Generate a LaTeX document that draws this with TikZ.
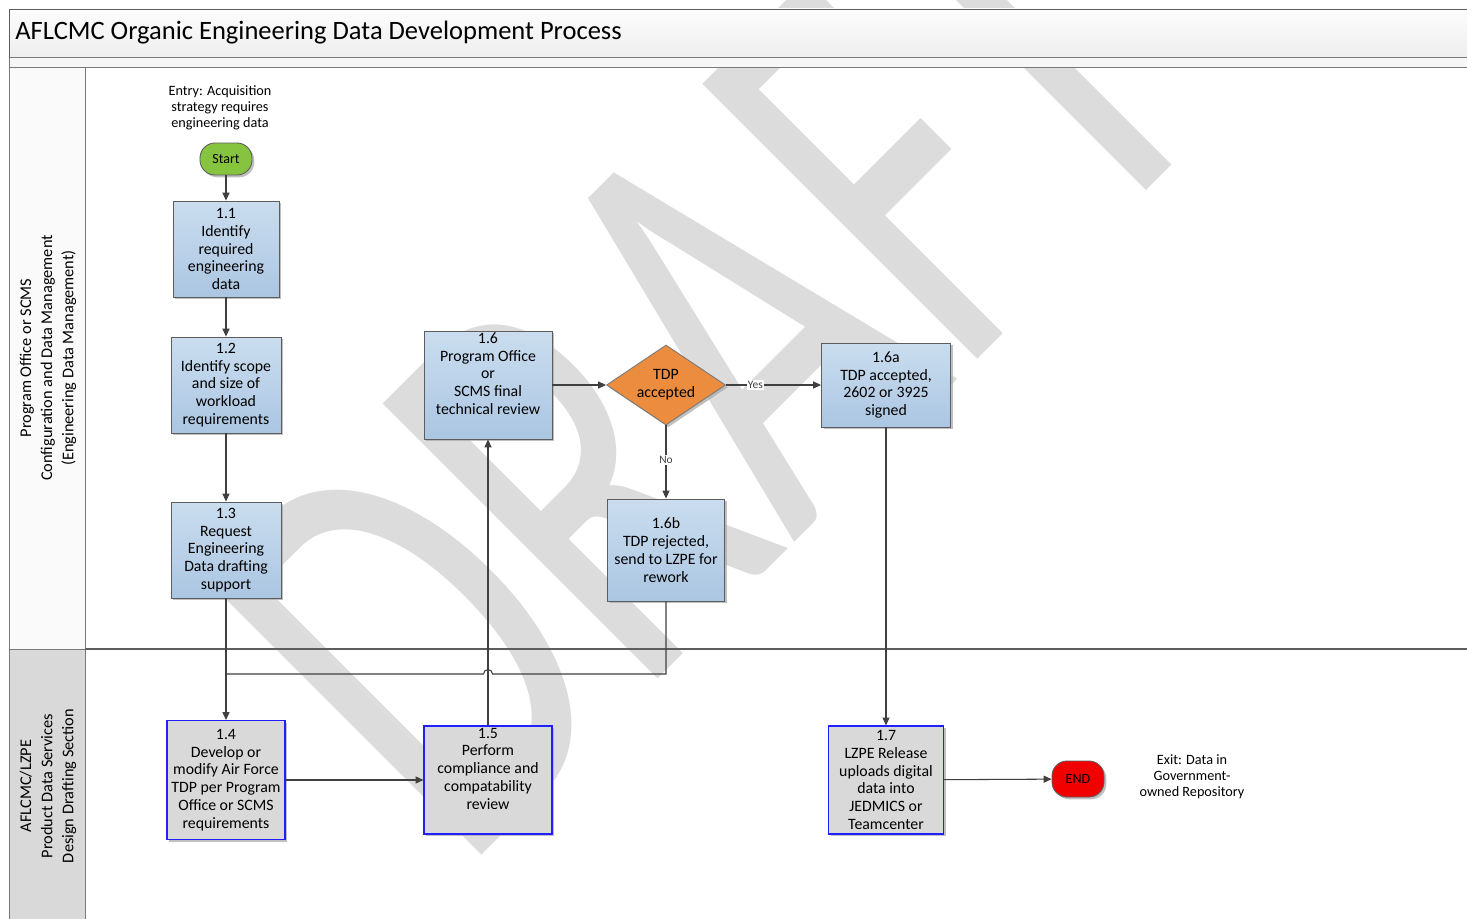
\documentclass[tikz,border=0pt]{standalone}
\usepackage{fontspec}
\setmainfont{Carlito}
\usepackage{graphicx}
\usepackage{tikz}
\usetikzlibrary{positioning,shapes.geometric,arrows.meta,shadows}
\definecolor{LineDark}{HTML}{404040}
\definecolor{BoxBlueTop}{HTML}{CADDEF}
\definecolor{BoxBlueBot}{HTML}{ABC6E2}
\definecolor{BoxGray}{HTML}{D9D9D9}
\definecolor{EdgeBlue}{HTML}{1F1FFF}
\definecolor{StartGreen}{HTML}{86C440}
\definecolor{EndRed}{HTML}{F20000}
\definecolor{DecOrange}{HTML}{EB8C3F}
\definecolor{WaterGray}{HTML}{DCDCDC}
\definecolor{LaneGray}{HTML}{D9D9D9}
\definecolor{TitleTop}{HTML}{FDFDFD}
\definecolor{TitleBot}{HTML}{EEEEEE}

\begin{document}
\begin{tikzpicture}[x=0.02cm,y=-0.02cm,
  font=\fontsize{9}{10.1}\selectfont,
  every node/.style={align=center,inner sep=0pt},
  shade/.style={drop shadow={shadow xshift=1.3pt,shadow yshift=-1.3pt,fill=black!35,opacity=0.7}},
  bluebox/.style={shade,draw=LineDark!85,line width=0.5pt,top color=BoxBlueTop,bottom color=BoxBlueBot},
  graybox/.style={shade,draw=EdgeBlue,line width=0.6pt,fill=BoxGray},
  term/.style={shade,draw=LineDark!85,line width=0.5pt,rounded corners=0.3cm,font=\fontsize{8}{9}\selectfont},
  decision/.style={shade,diamond,aspect=1.5,draw=LineDark!70,line width=0.5pt,fill=DecOrange,minimum width=2.38cm,minimum height=1.6cm},
  note/.style={font=\fontsize{8.1}{9.1}\selectfont},
  flow/.style={LineDark,line width=0.6pt,-{Triangle[length=4.5pt,width=4pt]}},
  tag/.style={fill=white,inner sep=0.6pt,font=\fontsize{6.5}{7}\selectfont},
  wmark/.style={text=WaterGray,font=\fontsize{230}{230}\selectfont}]
  \useasboundingbox[fill=white] (0,0) rectangle (1467,919);
  % 水印
  \begin{scope}
    \clip (0,0) rectangle (1467,919);
    \node[wmark,rotate=45,anchor=base west] (wm) at (462,875) {\scalebox{1}[1.5]{DRAFT}};
  \end{scope}
  % 标题栏
  \draw[LineDark!85,top color=TitleTop,bottom color=TitleBot] (9,9) rectangle (1480,57);
  \draw[LineDark!70,fill=black!3] (9,57) rectangle (1480,67);
  \node[anchor=west,font=\fontsize{15.1}{16}\selectfont] (title) at (15,33) {AFLCMC Organic Engineering Data Development Process};
  % 泳道
  \draw[LineDark!70,fill=black!2] (9,67) rectangle (85,649);
  \draw[LineDark!70,fill=LaneGray] (9,649) rectangle (85,925);
  \draw[LineDark!85,line width=0.8pt] (85,649) -- (1467,649);
  \node[rotate=90,font=\fontsize{9.3}{12}\selectfont] (lane1) at (48,358) {Program Office or SCMS\\Configuration and Data Management\\(Engineering Data Management)};
  \node[rotate=90,font=\fontsize{9.3}{12}\selectfont] (lane2) at (48,786) {AFLCMC/LZPE\\Product Data Services\\Design Drafting Section};
  % 节点
  \node[note] (entry) at (220,108) {Entry: Acquisition\\strategy requires\\engineering data};
  \node[term,fill=StartGreen,minimum width=1.04cm,minimum height=0.64cm] (start) at (226,159) {Start};
  \node[bluebox,minimum width=2.12cm,minimum height=1.92cm] (b11) at (226,249) {1.1\\Identify\\required\\engineering\\data};
  \node[bluebox,minimum width=2.2cm,minimum height=1.92cm] (b12) at (226,385) {1.2\\Identify scope\\and size of\\workload\\requirements};
  \node[bluebox,minimum width=2.2cm,minimum height=1.92cm] (b13) at (226,550) {1.3\\Request\\Engineering\\Data drafting\\support};
  \node[bluebox,minimum width=2.56cm,minimum height=2.16cm] (b16) at (488,385) {1.6\\Program Office\\or\\SCMS final\\technical review\\\strut};
  \node[decision] (dec) at (666,385) {TDP\\accepted};
  \node[bluebox,minimum width=2.58cm,minimum height=1.68cm] (b16a) at (886,385) {1.6a\\TDP accepted,\\2602 or 3925\\signed};
  \node[bluebox,minimum width=2.34cm,minimum height=2.04cm] (b16b) at (666,550) {1.6b\\TDP rejected,\\send to LZPE for\\rework};
  \node[graybox,minimum width=2.36cm,minimum height=2.38cm] (b14) at (226,780) {1.4\\Develop or\\modify Air Force\\TDP per Program\\Office or SCMS\\requirements};
  \node[graybox,minimum width=2.56cm,minimum height=2.16cm] (b15) at (488,780) {1.5\\Perform\\compliance and\\compatability\\review\\\strut};
  \node[graybox,minimum width=2.3cm,minimum height=2.16cm] (b17) at (886,780) {1.7\\LZPE Release\\uploads digital\\data into\\JEDMICS or\\Teamcenter};
  \node[term,fill=EndRed,minimum width=1.04cm,minimum height=0.72cm] (endn) at (1078,779) {END};
  \node[note] (exit) at (1192,777) {Exit: Data in\\Government-\\owned Repository};
  % 连线
  \coordinate (turn) at (666,674);
  \coordinate (hop) at (488,674);
  \coordinate (merge) at (226,674);
  \draw[flow] (start) -- (b11);
  \draw[flow] (b11) -- (b12);
  \draw[flow] (b12) -- (b13);
  \draw[flow] (b13) -- (b14);
  \draw[LineDark,line width=0.6pt] (b16b.south) -- (turn) -- ([xshift=0.09cm]hop) arc[start angle=0,end angle=180,radius=0.09cm] -- (merge);
  \draw[flow] (b14) -- (b15);
  \draw[flow] (b15) -- (b16);
  \draw[flow] (b16) -- (dec);
  \draw[flow] (dec) -- (b16a) node[tag,pos=0.31] {Yes};
  \draw[flow] (dec) -- (b16b) node[tag,pos=0.47] {No};
  \draw[flow] (b16a) -- (b17);
  \draw[flow] (b17) -- (endn);
\end{tikzpicture}
\end{document}
